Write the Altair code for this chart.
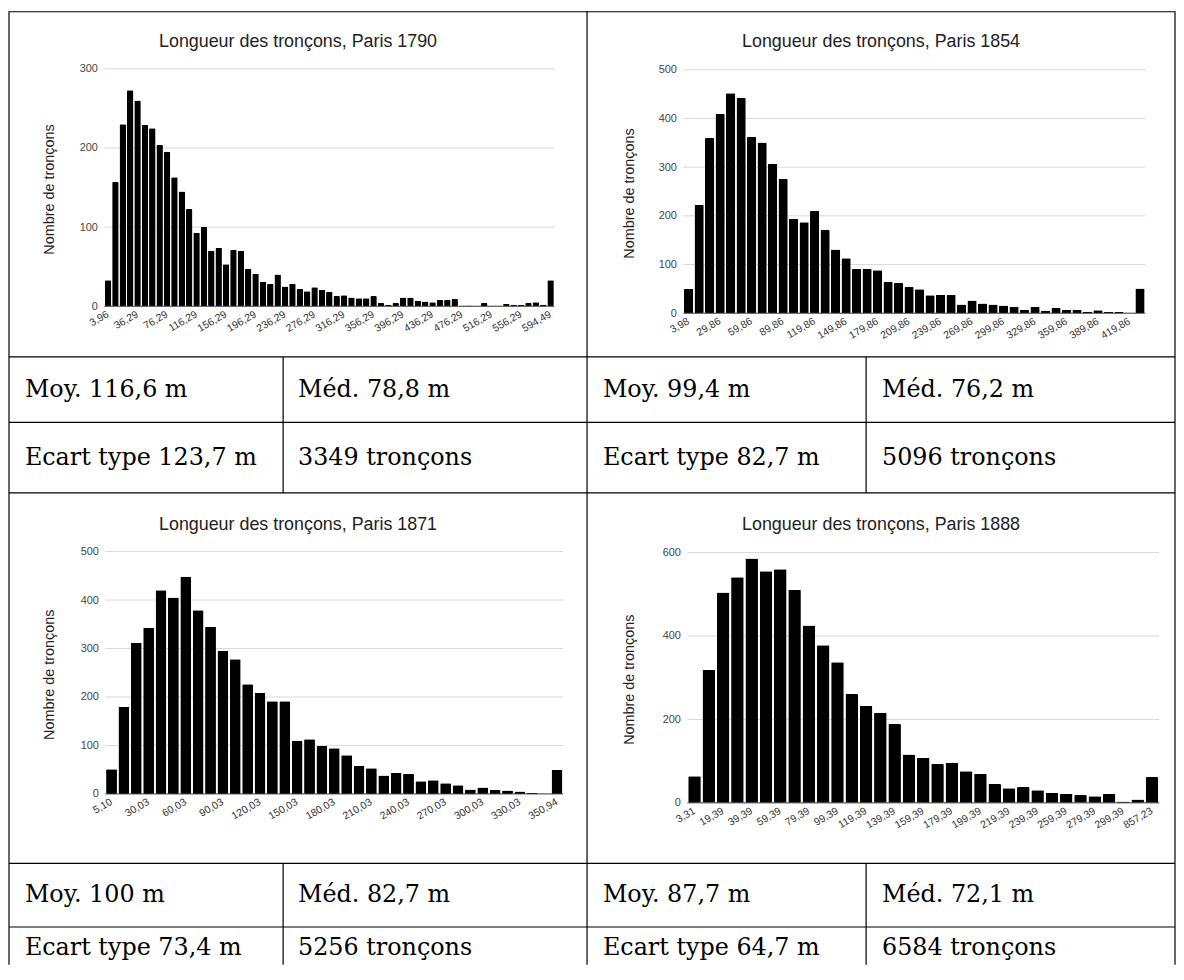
import json
import altair as alt
import pandas as pd

# ---------------- data ----------------
YEARS = ["1790", "1854", "1871", "1888"]

COUNTS_1790 = [33, 157, 230, 273, 260, 229, 225, 204, 195, 163,
               145, 123, 93, 100, 70, 74, 53, 71, 70, 47,
               41, 31, 28, 40, 25, 28, 22, 19, 24, 21,
               18, 13, 14, 11, 10, 10, 13, 4, 2, 4,
               11, 11, 7, 6, 5, 8, 8, 9, 0, 1,
               0, 4, 0, 0, 3, 2, 2, 4, 5, 2,
               33]
TICK_POS_1790 = [0, 4, 8, 12, 16, 20, 24, 28, 32, 36, 40, 44, 48, 52, 56, 60]
TICK_LBL_1790 = ["3,96", "36,29", "76,29", "116,29", "156,29", "196,29", "236,29", "276,29",
                 "316,29", "356,29", "396,29", "436,29", "476,29", "516,29", "556,29", "594,49"]
Y_TICKS_1790 = [0, 100, 200, 300]

COUNTS_1854 = [50, 223, 360, 410, 452, 442, 362, 351, 307, 276,
               194, 187, 210, 171, 131, 113, 91, 91, 88, 64,
               62, 54, 49, 37, 38, 38, 18, 26, 20, 18,
               16, 13, 7, 13, 5, 11, 7, 7, 3, 6,
               3, 3, 0, 51]
TICK_POS_1854 = [0, 3, 6, 9, 12, 15, 18, 21, 24, 27, 30, 33, 36, 39, 42]
TICK_LBL_1854 = ["3,98", "29,86", "59,86", "89,86", "119,86", "149,86", "179,86", "209,86",
                 "239,86", "269,86", "299,86", "329,86", "359,86", "389,86", "419,86"]
Y_TICKS_1854 = [0, 100, 200, 300, 400, 500]

COUNTS_1871 = [51, 180, 312, 343, 420, 405, 448, 379, 345, 295,
               278, 226, 208, 191, 191, 109, 113, 99, 94, 80,
               58, 53, 38, 43, 41, 26, 28, 22, 18, 9,
               13, 8, 7, 5, 2, 0, 50]
TICK_POS_1871 = [0, 3, 6, 9, 12, 15, 18, 21, 24, 27, 30, 33, 36]
TICK_LBL_1871 = ["5,10", "30,03", "60,03", "90,03", "120,03", "150,03", "180,03",
                 "210,03", "240,03", "270,03", "300,03", "330,03", "350,94"]
Y_TICKS_1871 = [0, 100, 200, 300, 400, 500]

COUNTS_1888 = [64, 319, 504, 541, 586, 555, 560, 511, 425, 378,
               337, 261, 233, 216, 189, 116, 108, 93, 96, 76,
               70, 45, 35, 38, 30, 24, 22, 19, 16, 21,
               3, 8, 62]
TICK_POS_1888 = [0, 2, 4, 6, 8, 10, 12, 14, 16, 18, 20, 22, 24, 26, 28, 30, 32]
TICK_LBL_1888 = ["3,31", "19,39", "39,39", "59,39", "79,39", "99,39", "119,39", "139,39",
                 "159,39", "179,39", "199,39", "219,39", "239,39", "259,39", "279,39",
                 "299,39", "857,23"]
Y_TICKS_1888 = [0, 200, 400, 600]

MOY = ["Moy. 116,6 m", "Moy. 99,4 m", "Moy. 100 m", "Moy. 87,7 m"]
MED = ["Méd. 78,8 m", "Méd. 76,2 m", "Méd. 82,7 m", "Méd. 72,1 m"]
ECART = ["Ecart type 123,7 m", "Ecart type 82,7 m", "Ecart type 73,4 m", "Ecart type 64,7 m"]
NB = ["3349 tronçons", "5096 tronçons", "5256 tronçons", "6584 tronçons"]

TITLE_PREFIX = "Longueur des tronçons, Paris "
Y_TITLE = "Nombre de tronçons"

# ---------------- layout (pixels, chart coordinates) ----------------
W, H = 1176, 960
SANS = "Liberation Sans"
SERIF = "DejaVu Serif"

XL, XC, XR = 1, 583, 1175           # outer / centre vertical lines
XD_L, XD_R = 277, 864               # stats column dividers
Y_ROWS = [348, 414, 485, 858, 922]  # horizontal row lines

PANELS = [
    dict(counts=COUNTS_1790, tpos=TICK_POS_1790, tlbl=TICK_LBL_1790, yt=Y_TICKS_1790,
         x0=97, x1=550, ybase=297, ytop=58, tx=292, ty=31, ytx=42),
    dict(counts=COUNTS_1854, tpos=TICK_POS_1854, tlbl=TICK_LBL_1854, yt=Y_TICKS_1854,
         x0=680, x1=1145, ybase=304, ytop=59, tx=879, ty=31, ytx=626),
    dict(counts=COUNTS_1871, tpos=TICK_POS_1871, tlbl=TICK_LBL_1871, yt=Y_TICKS_1871,
         x0=98, x1=559, ybase=788, ytop=544, tx=292, ty=517, ytx=42),
    dict(counts=COUNTS_1888, tpos=TICK_POS_1888, tlbl=TICK_LBL_1888, yt=Y_TICKS_1888,
         x0=684, x1=1159, ybase=797, ytop=545, tx=879, ty=517, ytx=626),
]

layers = []

# table borders
segs = [dict(x=XL, x2=XR, y=0.5, y2=0.5)]
for yy in Y_ROWS:
    segs.append(dict(x=XL, x2=XR, y=yy, y2=yy))
for xx in (XL, XC, XR):
    segs.append(dict(x=xx, x2=xx, y=0, y2=H))
for xx in (XD_L, XD_R):
    segs.append(dict(x=xx, x2=xx, y=Y_ROWS[0], y2=Y_ROWS[2]))
    segs.append(dict(x=xx, x2=xx, y=Y_ROWS[3], y2=H))
borders = alt.Chart(pd.DataFrame(segs)).mark_rule(color="black", strokeWidth=1.2).encode(
    x=alt.X("x:Q", scale=None, axis=None), x2="x2:Q",
    y=alt.Y("y:Q", scale=None, axis=None), y2="y2:Q")
layers.append(borders)

# stats cells
col_x = [17, 292, 599, 880]
row_y_top = [(Y_ROWS[0] + Y_ROWS[1]) / 2, (Y_ROWS[1] + Y_ROWS[2]) / 2]
row_y_bot = [(Y_ROWS[3] + Y_ROWS[4]) / 2, 943]
cells = []
for i in range(4):
    left = (i % 2) * 2
    ry = row_y_top if i < 2 else row_y_bot
    cells.append(dict(t=MOY[i], x=col_x[left], y=ry[0]))
    cells.append(dict(t=MED[i], x=col_x[left + 1], y=ry[0]))
    cells.append(dict(t=ECART[i], x=col_x[left], y=ry[1]))
    cells.append(dict(t=NB[i], x=col_x[left + 1], y=ry[1]))
cell_text = alt.Chart(pd.DataFrame(cells)).mark_text(
    align="left", baseline="middle", font=SERIF, fontSize=24, color="black").encode(
    x=alt.X("x:Q", scale=None, axis=None), y=alt.Y("y:Q", scale=None, axis=None), text="t:N")
layers.append(cell_text)

# chart titles and y-axis titles
titles = [dict(t=TITLE_PREFIX + YEARS[i], x=p["tx"], y=p["ty"]) for i, p in enumerate(PANELS)]
layers.append(alt.Chart(pd.DataFrame(titles)).mark_text(
    align="center", baseline="middle", font=SANS, fontSize=18, color="#222").encode(
    x=alt.X("x:Q", scale=None, axis=None), y=alt.Y("y:Q", scale=None, axis=None), text="t:N"))
ytitles = [dict(t=Y_TITLE, x=p["ytx"], y=(p["ybase"] + p["ytop"]) / 2 + 2) for p in PANELS]
layers.append(alt.Chart(pd.DataFrame(ytitles)).mark_text(
    align="center", baseline="middle", angle=270, font=SANS, fontSize=14.5, color="#222").encode(
    x=alt.X("x:Q", scale=None, axis=None), y=alt.Y("y:Q", scale=None, axis=None), text="t:N"))

# histograms
for p in PANELS:
    n = len(p["counts"])
    df = pd.DataFrame({"k": list(range(n)), "n": p["counts"]})
    lbl = [""] * n
    for pos, t in zip(p["tpos"], p["tlbl"]):
        lbl[pos] = t
    ymax = p["yt"][-1]
    yscale = alt.Scale(domain=[0, ymax], range=[p["ybase"], p["ytop"]], nice=False, zero=True)
    xscale = alt.Scale(range=[p["x0"], p["x1"]], paddingInner=0.12, paddingOuter=0.06)

    grid = alt.Chart(pd.DataFrame({"v": p["yt"][1:]})).mark_rule(
        color="#d9d9d9", strokeWidth=1).encode(
        y=alt.Y("v:Q", scale=yscale, axis=None),
        x=alt.value(p["x0"]), x2=alt.value(p["x1"]))

    bars = alt.Chart(df).mark_bar(color="black", cornerRadius=1.2).encode(
        x=alt.X("k:O", scale=xscale, axis=alt.Axis(
            orient="bottom", offset=-(H - p["ybase"]), values=p["tpos"],
            labelExpr=json.dumps(lbl) + "[datum.value]",
            labelAngle=-30, labelAlign="right", labelBaseline="middle",
            labelPadding=7, labelFont=SANS, labelFontSize=10.5, labelColor="#333",
            labelOverlap=False, domain=False, ticks=False, grid=False, title=None)),
        y=alt.Y("n:Q", scale=yscale, axis=alt.Axis(
            orient="left", offset=-p["x0"], values=p["yt"],
            labelPadding=7, labelFont=SANS, labelFontSize=11, labelColor="#444",
            domain=False, ticks=False, grid=False, title=None)))

    base = alt.Chart(pd.DataFrame({"v": [0]})).mark_rule(color="#333", strokeWidth=1).encode(
        y=alt.Y("v:Q", scale=yscale, axis=None),
        x=alt.value(p["x0"]), x2=alt.value(p["x1"]))

    layers += [grid, bars, base]

chart = alt.layer(*layers).properties(
    width=W, height=H, padding=0, autosize=alt.AutoSizeParams(type="none"),
    background="white"
).resolve_scale(x="independent", y="independent").resolve_axis(
    x="independent", y="independent"
).configure_view(stroke=None)

chart.save("out.html", embed_options={"renderer": "svg", "actions": False})
